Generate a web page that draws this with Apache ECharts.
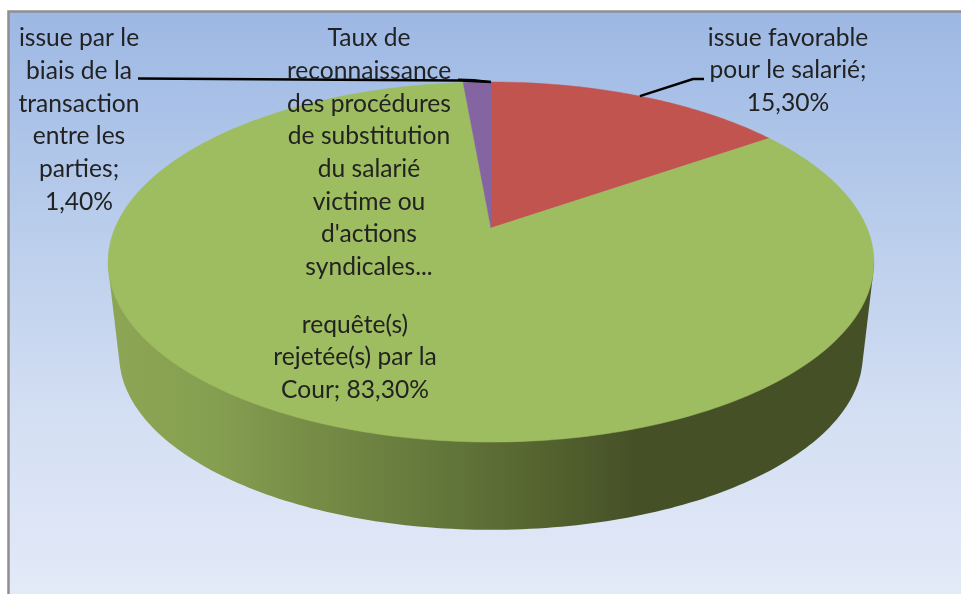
<!DOCTYPE html>
<html lang="fr">

<head>
    <meta charset="UTF-8">
    <title>Taux de reconnaissance</title>
    <script src="https://cdnjs.cloudflare.com/ajax/libs/echarts/6.0.0/echarts.min.js"></script>
    <style>
        html, body { margin: 0; padding: 0; background: #fff; }
        #main { width: 961px; height: 594px; }
    </style>
</head>

<body>
    <div id="main"></div>
    <script>
        // data
        const categories = ["issue favorable\npour le salarié;\n", "requête(s)\nrejetée(s) par la\nCour; ", "issue par le\nbiais de la\ntransaction\nentre les\nparties;\n"];
        const values = [15.3, 83.3, 1.4];
        const colors = ["#c1544f", "#9ebc60", "#8465a2"];
        const titleText = "Taux de\nreconnaissance\ndes procédures\nde substitution\ndu salarié\nvictime ou\nd'actions\nsyndicales...";

        // layout of the tilted pie
        const cx = 491, apexTop = 228, apexBottom = 322;
        const radX = 376, radY = 173.6, tilt = 0.189, bottomScale = 0.971;
        const fontSize = 24.6;
        const lineH = 32.7;
        const textColor = "#222222";

        const total = values.reduce((a, b) => a + b, 0);

        // one point of the disc rim, angle clockwise from the top
        function rim(angle, apexY, scale) {
            const u = Math.sin(angle), v = -Math.cos(angle);
            const w = 1 - tilt * v;
            return [cx + radX * scale * u / w, apexY + radY * scale * v / w];
        }

        function valueLabel(i) {
            return categories[i] + values[i].toFixed(2).replace(".", ",") + "%";
        }

        // start angle of each slice
        function sliceStart(i) {
            let sum = 0;
            for (let j = 0; j < i; j++) sum += values[j];
            return sum / total * Math.PI * 2;
        }

        // lower outline of the two discs, taken as the convex chain under them
        function sideOutline() {
            const pts = [];
            for (let a = 0; a < 360; a += 1) {
                const t = a * Math.PI / 180;
                pts.push(rim(t, apexTop, 1), rim(t, apexBottom, bottomScale));
            }
            pts.sort((p, q) => p[0] - q[0]);
            const chain = [];
            pts.forEach((p) => {
                while (chain.length > 1) {
                    const a = chain[chain.length - 2], b = chain[chain.length - 1];
                    if ((b[0] - a[0]) * (p[1] - a[1]) - (b[1] - a[1]) * (p[0] - a[0]) >= 0) chain.pop();
                    else break;
                }
                chain.push(p);
            });
            return chain;
        }

        const labelPos = [[788, 21.5], [355, 308.5], [79, 22]];

        const chart = echarts.init(document.getElementById("main"));

        chart.setOption({
            animation: false,
            backgroundColor: "#ffffff",
            title: {
                text: titleText,
                left: 369,
                top: 22,
                textAlign: "center",
                padding: 0,
                textStyle: { fontFamily: "Lato", fontSize: fontSize, fontWeight: "normal", color: textColor, lineHeight: lineH }
            },
            graphic: [
                {
                    type: "rect",
                    z: -10,
                    shape: { x: 9, y: 12, width: 952, height: 582 },
                    style: {
                        fill: new echarts.graphic.LinearGradient(0, 0, 0, 1, [
                            { offset: 0, color: "#9db8e4" },
                            { offset: 0.4, color: "#bccfec" },
                            { offset: 0.7, color: "#d4dff3" },
                            { offset: 1, color: "#e3eaf8" }
                        ])
                    }
                },
                {
                    type: "polyline",
                    z: -9,
                    shape: { points: [[8.5, 594], [8.5, 11.5], [961, 11.5]] },
                    style: { stroke: "#8f8f8f", lineWidth: 2.5, fill: null }
                }
            ],
            series: [
                {
                    // the wall of the pie
                    type: "custom",
                    coordinateSystem: "none",
                    silent: true,
                    z: 1,
                    data: [0],
                    renderItem: () => ({
                        type: "polygon",
                        shape: { points: sideOutline() },
                        style: {
                            fill: new echarts.graphic.LinearGradient(108, 0, 874, 0, [
                                { offset: 0, color: "#8ca655" },
                                { offset: 0.13, color: "#86a051" },
                                { offset: 0.27, color: "#768c46" },
                                { offset: 0.42, color: "#65793c" },
                                { offset: 0.54, color: "#576831" },
                                { offset: 0.69, color: "#465027" },
                                { offset: 1, color: "#465027" }
                            ], true)
                        }
                    })
                },
                {
                    // the top of the pie
                    type: "custom",
                    coordinateSystem: "none",
                    silent: true,
                    z: 2,
                    data: values,
                    renderItem: (params, api) => {
                        const i = params.dataIndex;
                        const start = sliceStart(i);
                        const sweep = api.value(0) / total * Math.PI * 2;
                        const points = [[cx, apexTop]];
                        const steps = Math.max(4, Math.ceil(sweep * 60));
                        for (let s = 0; s <= steps; s++) {
                            points.push(rim(start + sweep * s / steps, apexTop, 1));
                        }
                        return {
                            type: "polygon",
                            shape: { points: points },
                            style: { fill: colors[i], stroke: colors[i], lineWidth: 0.5 }
                        };
                    }
                },
                {
                    // labels and leader lines
                    type: "custom",
                    coordinateSystem: "none",
                    silent: true,
                    z: 3,
                    data: values,
                    renderItem: (params) => {
                        const i = params.dataIndex;
                        const children = [{
                            type: "text",
                            style: {
                                text: valueLabel(i),
                                x: labelPos[i][0],
                                y: labelPos[i][1],
                                align: "center",
                                textAlign: "center",
                                verticalAlign: "top",
                                font: fontSize + "px Lato",
                                lineHeight: lineH,
                                fill: textColor
                            }
                        }];
                        if (i === 0) {
                            const end = rim(sliceStart(0) + values[0] / total * Math.PI, apexTop, 1);
                            children.push({
                                type: "polyline",
                                shape: { points: [[704, 79], [693, 79], end] },
                                style: { stroke: "#000000", lineWidth: 2.4, fill: null }
                            });
                        }
                        if (i === 2) {
                            const end = rim(0, apexTop, 1);
                            children.push({
                                type: "polyline",
                                shape: { points: [[138, 78.5], [460, 80.5], end] },
                                style: { stroke: "#000000", lineWidth: 2.4, fill: null }
                            }, {
                                type: "polyline",
                                shape: { points: [[458, 79.5], [474, 80], end] },
                                style: { stroke: "#000000", lineWidth: 2, fill: null }
                            });
                        }
                        return { type: "group", children: children };
                    }
                }
            ]
        });
    </script>
</body>

</html>
